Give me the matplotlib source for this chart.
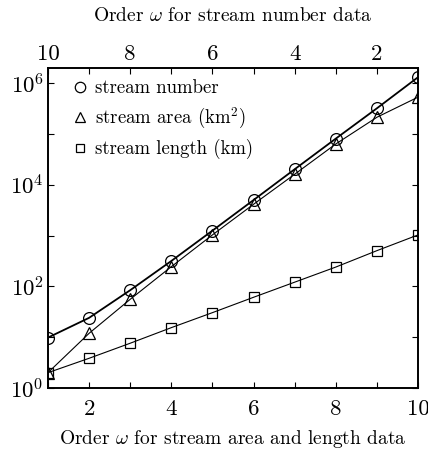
import matplotlib
matplotlib.use("Agg")
import matplotlib.pyplot as plt
from matplotlib.lines import Line2D

plt.rcParams['font.family'] = 'serif'
plt.rcParams['font.serif'] = ['cmr10']
plt.rcParams['mathtext.fontset'] = 'cm'
plt.rcParams['axes.formatter.use_mathtext'] = True

# Stream orders
order = [1, 2, 3, 4, 5, 6, 7, 8, 9, 10]

# Stream number, indexed by order (plotted against the top, reversed axis)
stream_number = [1.31e6, 3.2e5, 8.1e4, 2.02e4, 5.0e3, 1.25e3, 316, 84, 24, 9.8]
# Stream area (km^2) and stream length (km), indexed by order
stream_area = [2.0, 11.9, 55.6, 244, 1030, 4130, 1.61e4, 6.35e4, 2.13e5, 5.3e5]
stream_length = [2.0, 3.84, 7.6, 15.4, 30.4, 61, 121, 240, 505, 1030]

y_ticks = [1e0, 1e1, 1e2, 1e3, 1e4, 1e5, 1e6]
y_labels = [r'$10^0$', '', r'$10^2$', '', r'$10^4$', '', r'$10^6$']
x_ticks = [1, 2, 3, 4, 5, 6, 7, 8, 9, 10]
x_labels = ['', '2', '', '4', '', '6', '', '8', '', '10']

fig = plt.figure(figsize=(4.28, 4.54), dpi=100)
ax = fig.add_axes([0.112, 0.1454, 0.865, 0.7046])

ax.plot(order, stream_area, color='black', lw=0.8, marker='^',
        ms=8, mfc='none', mec='black', mew=0.9)
ax.plot(order, stream_length, color='black', lw=0.8, marker='s',
        ms=6.5, mfc='none', mec='black', mew=0.9)

ax.set_yscale('log')
ax.set_ylim(1, 1.97e6)
ax.set_xlim(1, 10)
ax.set_yticks(y_ticks)
ax.set_yticklabels(y_labels)
ax.minorticks_off()
ax.set_xticks(x_ticks)
ax.set_xticklabels(x_labels)
ax.tick_params(direction='in', length=4, width=0.8, labelsize=16.5,
               right=True, top=False)
ax.tick_params(axis='x', pad=8)
ax.tick_params(axis='y', pad=3)
ax.set_xlabel(r'Order $\omega$ for stream area and length data', fontsize=14,
              labelpad=7)

# Top axis for stream number, orders run from right to left
top = ax.twiny()
top.plot(order, stream_number, color='black', lw=1.3, marker='o',
         ms=8.5, mfc='none', mec='black', mew=0.9)
top.set_xlim(10, 1)
top.set_xticks(x_ticks)
top.set_xticklabels(x_labels)
top.tick_params(direction='in', length=4, width=0.8, labelsize=16.5, pad=3)
top.set_xlabel(r'Order $\omega$ for stream number data', fontsize=14,
               labelpad=17)

for a in (ax, top):
    for s in a.spines.values():
        s.set_linewidth(1.2)

# Legend shows the markers only
handles = [
    Line2D([], [], ls='none', marker='o', ms=7.5, mfc='none', mec='black', mew=0.9),
    Line2D([], [], ls='none', marker='^', ms=7.5, mfc='none', mec='black', mew=0.9),
    Line2D([], [], ls='none', marker='s', ms=6, mfc='none', mec='black', mew=0.9),
]
top.legend(handles,
           ['stream number', r'stream area (km$^2$)', 'stream length (km)'],
           loc='upper left', frameon=False, fontsize=13.5,
           handlelength=0.6, handletextpad=0.5, labelspacing=0.45,
           borderaxespad=0.2, bbox_to_anchor=(0.04, 1.0))

fig.savefig('out.png', dpi=100)
